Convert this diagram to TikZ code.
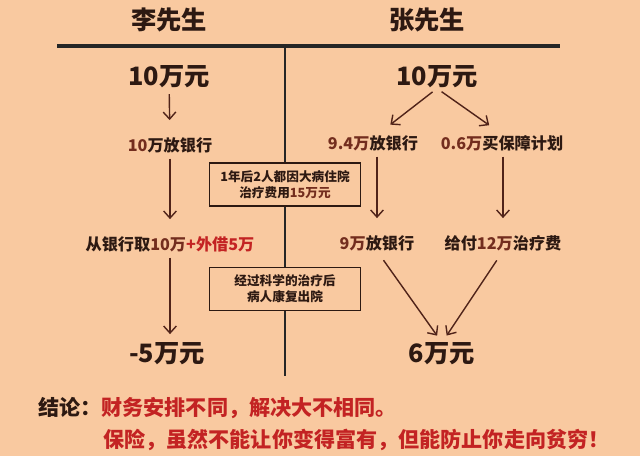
\documentclass[tikz,border=0pt]{standalone}
\usepackage{fontspec}
\setmainfont{Noto Sans CJK SC}
\usetikzlibrary{arrows.meta}
\definecolor{bgpeach}{RGB}{249,201,160}
\definecolor{inkdark}{RGB}{45,25,18}
\definecolor{inkbrown}{RGB}{115,45,30}
\definecolor{inkred}{RGB}{195,35,35}
\definecolor{arrowc}{RGB}{80,35,25}
\begin{document}
\begin{tikzpicture}[
    x=0.025cm, y=-0.025cm,
    every node/.style={inner sep=0pt, text=inkdark},
    title/.style={font=\fontsize{18}{20}\selectfont\bfseries},
    sum/.style={font=\fontsize{18}{20}\selectfont\bfseries},
    label/.style={font=\fontsize{11.5}{13}\selectfont\bfseries},
    eventbox/.style={draw=inkdark, line width=1pt, fill=bgpeach, minimum width=151*0.025cm,
        minimum height=43*0.025cm, align=center, font=\fontsize{9}{11.5}\selectfont\bfseries},
    concl/.style={anchor=west, font=\fontsize{15}{17}\selectfont\bfseries},
    rule/.style={draw=black!85, line width=2.2pt},
    arr/.style={draw=arrowc, line width=1pt, -{Straight Barb[length=5pt, width=9pt]},
        shorten <=4pt, shorten >=12pt}
]
    \fill[bgpeach] (0,0) rectangle (640,456);
    \useasboundingbox (0,0) rectangle (640,456);

    \node [title] (li) at (169,20) {李先生};
    \node [title] (zhang) at (427,20) {张先生};
    \coordinate (hl) at (57,46);
    \coordinate (hr) at (560,46);
    \coordinate (vt) at (285,46);
    \coordinate (vb) at (285,376);

    \node [sum] (liStart) at (169,77) {10万元};
    \node [label] (liBank) at (170,145) {\textcolor{inkbrown}{10}万放银行};
    \node [label] (liTake) at (170,244) {从银行取\textcolor{inkbrown}{10万}\textcolor{inkred}{+外借5万}};
    \node [sum] (liEnd) at (167,354) {-5万元};

    \node [sum] (zhStart) at (437,77) {10万元};
    \node [label] (zhBank) at (373,143) {\textcolor{inkbrown}{9.4万}放银行};
    \node [label] (zhPlan) at (502,143) {\textcolor{inkbrown}{0.6万}买保障计划};
    \node [label] (zhBank2) at (377,243) {\textcolor{inkbrown}{9万}放银行};
    \node [label] (zhPay) at (503,243) {给付\textcolor{inkbrown}{12万}治疗费};
    \node [sum] (zhEnd) at (442,354) {6万元};

    \node [eventbox] (ill) at (285,184.5) {1年后2人都因大病住院\\治疗费用\textcolor{inkbrown}{15万元}};
    \node [eventbox] (cured) at (285,289) {经过科学的治疗后\\病人康复出院};

    \draw [rule] (hl) -- (hr);
    \draw [rule, line width=1.8pt] (vt) -- (ill.north);
    \draw [rule, line width=1.8pt] (ill.south) -- (cured.north);
    \draw [rule, line width=1.8pt] (cured.south) -- (vb);

    \draw [arr] (liStart) -- (liBank);
    \draw [arr] (liBank) -- (liTake);
    \draw [arr, shorten >=6pt] (liTake.south) -- (liTake.south |- liEnd.north);

    \draw [arr] (zhStart.south) -- (zhBank.north -| zhBank2.north);
    \draw [arr] (zhStart.south) -- (zhPlan.north -| zhPay.north);
    \draw [arr] (zhBank.south -| zhBank2.north) -- (zhBank2);
    \draw [arr] (zhPlan.south -| zhPay.north) -- (zhPay);
    \draw [arr, shorten <=8pt, shorten >=6pt] (zhBank2.south) -- (zhEnd.north);
    \draw [arr, shorten <=8pt, shorten >=6pt] (zhPay.south) -- (zhEnd.north);

    \node [concl] (conclA) at (38,408) {结论：\textcolor{inkred}{财务安排不同，解决大不相同。}};
    \node [concl, text=inkred] (conclB) at (103,440) {保险，虽然不能让你变得富有，但能防止你走向贫穷！};
\end{tikzpicture}
\end{document}
